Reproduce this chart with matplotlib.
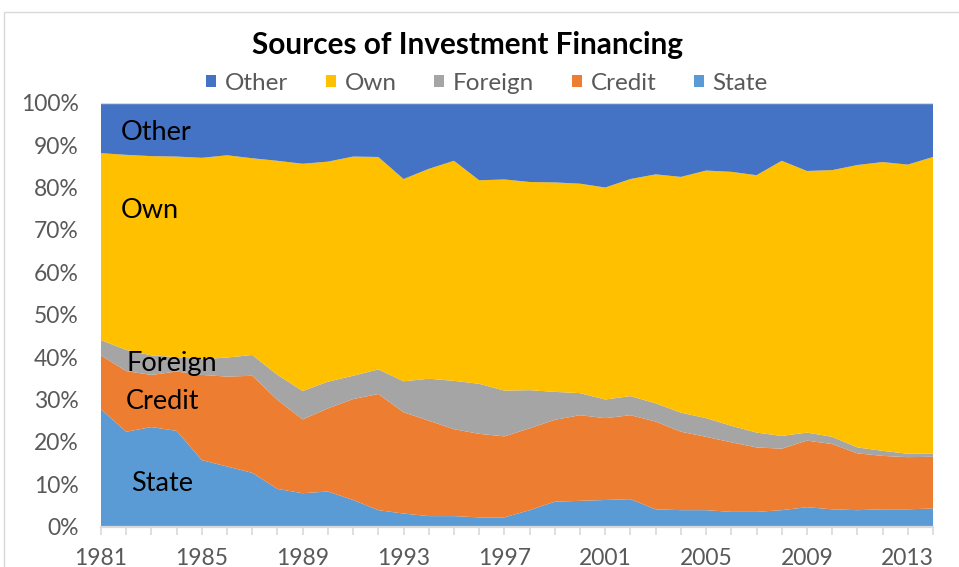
import matplotlib
matplotlib.use("Agg")
import matplotlib.pyplot as plt
from matplotlib.patches import Rectangle
from matplotlib.ticker import FixedLocator, FuncFormatter
import numpy as np

years = list(range(1981, 2015))
state = [27.7, 22.4, 23.5, 22.6, 15.7, 14.2, 12.7, 8.9, 7.9, 8.3, 6.3, 3.9, 3.1, 2.5, 2.5, 2.2, 2.2,
         3.9, 5.9, 6.1, 6.3, 6.5, 4.1, 3.9, 3.9, 3.5, 3.5, 3.9, 4.6, 4.1, 3.9, 4.1, 4.1, 4.3]
credit = [12.7, 14.3, 12.3, 14.0, 20.1, 21.2, 22.9, 21.0, 17.4, 19.6, 23.8, 27.4, 23.9, 22.5, 20.5, 19.7, 19.1,
          19.3, 19.3, 20.2, 19.3, 19.8, 20.7, 18.5, 17.3, 16.4, 15.2, 14.5, 15.7, 15.4, 13.4, 12.6, 12.3, 12.2]
foreign = [3.6, 5.0, 4.6, 3.4, 3.7, 4.5, 4.9, 5.9, 6.7, 6.3, 5.5, 5.8, 7.3, 9.9, 11.4, 11.8, 10.8,
           9.0, 6.6, 5.2, 4.4, 4.5, 4.3, 4.5, 4.4, 3.9, 3.5, 3.0, 1.9, 1.7, 1.4, 1.2, 0.8, 0.7]
own = [44.1, 46.0, 47.0, 47.3, 47.5, 47.7, 46.4, 50.5, 53.6, 51.9, 51.7, 50.1, 47.7, 49.5, 51.9, 48.0, 49.8,
       49.1, 49.4, 49.4, 50.0, 51.2, 54.0, 55.6, 58.4, 59.9, 60.7, 64.9, 61.7, 62.9, 66.6, 68.1, 68.2, 70.0]
other = [11.9, 12.3, 12.6, 12.7, 13.0, 12.4, 13.1, 13.7, 14.4, 13.9, 12.7, 12.8, 18.0, 15.6, 13.7, 18.3, 18.1,
         18.7, 18.8, 19.1, 20.0, 18.0, 16.9, 17.5, 16.0, 16.3, 17.1, 13.7, 16.1, 15.9, 14.7, 14.0, 14.6, 12.8]

series_names = ["State", "Credit", "Foreign", "Own", "Other"]
colors = ["#5B9BD5", "#ED7D31", "#A5A5A5", "#FFC000", "#4472C4"]
label_years = [1981, 1985, 1989, 1993, 1997, 2001, 2005, 2009, 2013]

FONT = ["Lato", "DejaVu Sans"]
plt.rcParams['font.family'] = FONT

data = np.array([state, credit, foreign, own, other], dtype=float)
data = data / data.sum(axis=0) * 100.0

W, H = 959, 567
fig = plt.figure(figsize=(W / 100, H / 100), dpi=100)
fig.patch.set_facecolor("white")

# chart border
fig.add_artist(Rectangle((4 / W, -0.1), 2, 1 - 12 / H + 0.1, transform=fig.transFigure,
                         fill=False, edgecolor="#D9D9D9", linewidth=1.0))

ax = fig.add_axes([101 / W, 1 - 526.7 / H, (933 - 101) / W, (526.7 - 102.7) / H])
stacks = ax.stackplot(years, data, colors=colors, labels=series_names, linewidth=0)
ax.set_xlim(years[0], years[-1])
ax.set_ylim(0, 100)

ax.axhline(100, color="#D9D9D9", linewidth=1.0, zorder=3)

for s in ["left", "right", "top"]:
    ax.spines[s].set_visible(False)
ax.spines["bottom"].set_color("#D9D9D9")
ax.spines["bottom"].set_linewidth(1.6)
ax.spines["bottom"].set_zorder(4)

ax.xaxis.set_major_locator(FixedLocator(label_years))
ax.xaxis.set_minor_locator(FixedLocator(years))
ax.tick_params(axis="x", which="both", length=6, width=1.2, color="#D9D9D9",
               labelsize=16.5, labelcolor="#595959", pad=9)
ax.set_yticks(np.arange(0, 101, 10))
ax.yaxis.set_major_formatter(FuncFormatter(lambda v, p: f"{int(v)}%"))
ax.tick_params(axis="y", length=0, labelsize=16.5, labelcolor="#595959", pad=16)

# in-chart labels
lab_kw = dict(fontsize=19.5, color="black", va="center", ha="left")
ax.text(1981.8, 93.0, "Other", **lab_kw)
ax.text(1981.8, 74.6, "Own", **lab_kw)
ax.text(1982.0, 38.6, "Foreign", **lab_kw)
ax.text(1982.0, 29.6, "Credit", **lab_kw)
ax.text(1982.2, 10.2, "State", **lab_kw)

fig.text(467 / W, 1 - 45 / H, "Sources of Investment Financing", ha="center", va="center",
         fontsize=21.4, fontweight="bold", color="black")

handles = list(stacks)[::-1]
labels = series_names[::-1]
leg = fig.legend(handles, labels, loc="center", bbox_to_anchor=(487 / W, 1 - 83 / H), ncol=5,
                 frameon=False, fontsize=17.5, handlelength=0.42, handleheight=0.42,
                 handletextpad=0.35, columnspacing=1.55, labelcolor="#595959")

fig.savefig("out.png", dpi=100, facecolor="white")
